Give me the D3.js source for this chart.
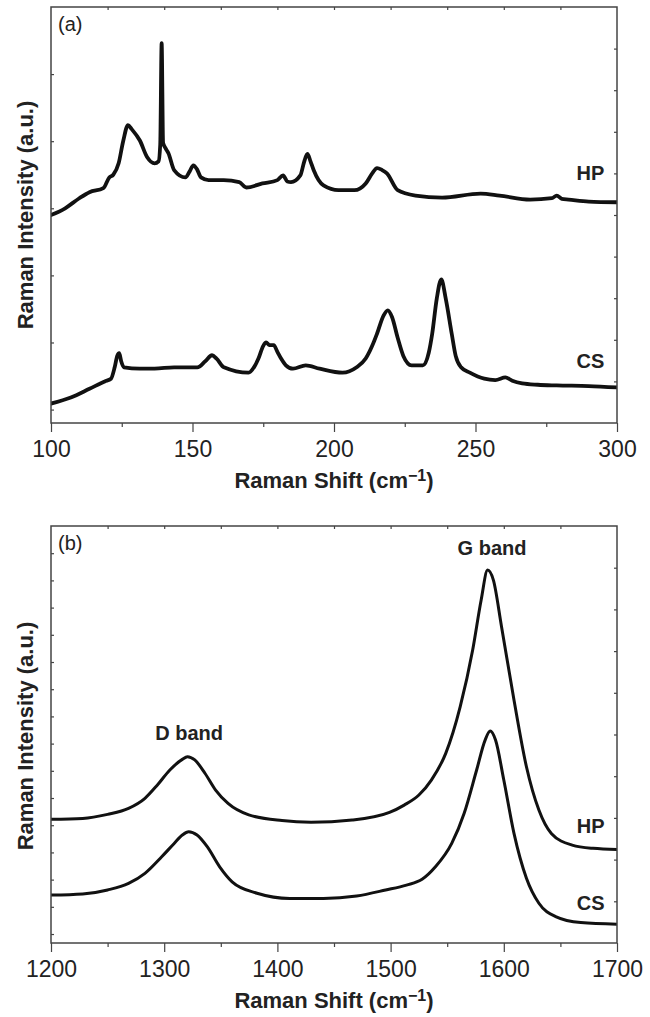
<!DOCTYPE html>
<html>
<head>
<meta charset="utf-8">
<script src="https://cdn.jsdelivr.net/npm/d3@7"></script>
<style>
    body { margin: 0; background: #fff; }
    .tick text { font-family: "Liberation Sans Narrow", "Liberation Sans", Arial, sans-serif; font-size: 23px; fill: #222; }
    .tick line { stroke: #444; stroke-width: 1.2; }
    .frame { fill: none; stroke: #444; stroke-width: 1.5; }
    .spectrum { fill: none; stroke: #111; stroke-linejoin: round; stroke-linecap: round; }
    .note { font-family: "Liberation Sans", Arial, sans-serif; font-weight: bold; font-size: 20px; fill: #222; }
    .title { font-family: "Liberation Sans", Arial, sans-serif; font-weight: bold; font-size: 22px; fill: #222; }
    .panel { font-family: "Liberation Sans", Arial, sans-serif; font-size: 20px; fill: #222; }
</style>
</head>
<body>
<script>
//panel (a) spectra, [Raman shift, intensity]
var lowShiftHP = [[100,2.90],[105,3.00],[110,3.15],[113.6,3.24],[118.5,3.30],[120.6,3.46],[122,3.50],[123.9,3.67],[125.5,4.00],[127.2,4.24],[128.5,4.18],[131.4,4.01],[134,3.76],[136.6,3.67],[138,3.70],[138.6,3.95],[139.1,5.46],[139.6,3.98],[140.4,3.90],[141.5,3.82],[143.5,3.57],[147.5,3.46],[149,3.55],[150.3,3.64],[151.6,3.58],[153,3.46],[155.7,3.42],[161,3.42],[166.5,3.39],[169,3.31],[174.7,3.37],[180,3.42],[182,3.49],[183.5,3.40],[184.8,3.39],[188.1,3.49],[189.5,3.70],[190.6,3.81],[191.7,3.70],[192.8,3.57],[196.3,3.34],[201.6,3.27],[207.2,3.27],[211.2,3.37],[213.5,3.52],[215.2,3.60],[217,3.57],[218.7,3.52],[222.5,3.27],[228.8,3.19],[238.2,3.16],[251.8,3.22],[258.5,3.19],[269.3,3.13],[277,3.15],[278.7,3.19],[280.5,3.14],[282.9,3.13],[290,3.10],[300,3.09]];
var lowShiftCS = [[100,0.09],[107,0.18],[113.6,0.31],[119,0.42],[121.2,0.46],[122.5,0.63],[123.4,0.80],[124.1,0.84],[124.8,0.72],[125.8,0.63],[131.3,0.61],[136.6,0.61],[143.5,0.63],[151.7,0.63],[154.5,0.72],[156.9,0.81],[158.5,0.76],[161.1,0.63],[169.8,0.55],[172,0.65],[173.3,0.76],[175,0.95],[176,1.00],[177.2,0.96],[178.7,0.96],[180,0.86],[181.3,0.76],[183,0.66],[185.5,0.61],[190,0.66],[194.9,0.61],[203,0.55],[208,0.63],[211.2,0.76],[213.5,0.95],[215.2,1.13],[217.5,1.40],[219,1.48],[220.5,1.38],[222.5,1.07],[224.5,0.80],[227.4,0.66],[231.4,0.66],[233.5,0.85],[234.7,1.13],[236.3,1.65],[237.9,1.94],[239.5,1.65],[241.6,1.13],[243,0.80],[244.9,0.63],[248,0.55],[253.1,0.46],[257,0.44],[260.6,0.48],[263,0.43],[266.5,0.39],[272,0.37],[278.7,0.36],[290,0.35],[300,0.33]];

//panel (b) spectra, D and G bands
var bandShiftHP = [[1200,4.22],[1228,4.25],[1250,4.40],[1268.5,4.62],[1283,4.99],[1294,5.48],[1305,6.03],[1316,6.42],[1320.5,6.52],[1327,6.40],[1336,5.91],[1345.4,5.29],[1356.4,4.80],[1374.7,4.38],[1404,4.17],[1429.7,4.11],[1466,4.19],[1499,4.47],[1512,4.74],[1525,5.11],[1536,5.66],[1548.7,6.64],[1561.5,8.36],[1572.5,10.44],[1580,12.28],[1585.7,13.38],[1590.8,13.01],[1598,11.30],[1609,8.60],[1620,6.15],[1631,4.56],[1642,3.70],[1660.4,3.27],[1678.8,3.15],[1700,3.11]];
var bandShiftCS = [[1200,1.43],[1228,1.47],[1250,1.62],[1268.5,1.86],[1283,2.23],[1297.8,2.84],[1308.8,3.33],[1316,3.64],[1321.6,3.76],[1329,3.64],[1338,3.21],[1349,2.47],[1360,1.92],[1382,1.50],[1411,1.31],[1440.7,1.31],[1470,1.40],[1495.6,1.62],[1514,1.80],[1527.8,2.01],[1539.6,2.47],[1554,3.33],[1565,4.44],[1576,6.03],[1583.5,7.13],[1588,7.46],[1592.7,7.13],[1600,5.66],[1609,3.70],[1620,2.05],[1631,1.13],[1645.8,0.64],[1668,0.42],[1700,0.36]];

//tick values
var lowMajorTicks = [100, 150, 200, 250, 300];
var lowMinorTicks = [125, 175, 225, 275];
var lowYTicks = [0, 1, 2, 3, 4, 5];
var bandMajorTicks = [1200, 1300, 1400, 1500, 1600, 1700];
var bandMinorTicks = [1250, 1350, 1450, 1550, 1650];
var bandYTicks = [0, 1, 2, 3, 4, 5, 6, 7, 8, 9, 10, 11, 12, 13, 14];

//curve labels in data coordinates
var lowLabels = [
    {text: "HP", x: 295.5, y: 3.42, anchor: "end"},
    {text: "CS", x: 295.5, y: 0.62, anchor: "end"}
];
var bandLabels = [
    {text: "HP", x: 1689, y: 3.71, anchor: "end"},
    {text: "CS", x: 1689, y: 0.88, anchor: "end"},
    {text: "D band", x: 1322, y: 7.13, anchor: "middle"},
    {text: "G band", x: 1589.6, y: 13.93, anchor: "middle"}
];

window.onload = setChart();

function setChart(){

    var width = 650,
        height = 1017;

    var svg = d3.select("body")
        .append("svg")
        .attr("width", width)
        .attr("height", height);

    drawPanel(svg, {
        tag: "(a)",
        top: 7, bottom: 423,
        xDomain: [100, 300], yDomain: [-0.2, 6],
        major: lowMajorTicks, minor: lowMinorTicks, yTicks: lowYTicks,
        series: [lowShiftHP, lowShiftCS],
        labels: lowLabels,
        lineWidth: 3.8,
        yTitleCenter: 215
    });

    drawPanel(svg, {
        tag: "(b)",
        top: 526, bottom: 943,
        xDomain: [1200, 1700], yDomain: [-0.33, 15],
        major: bandMajorTicks, minor: bandMinorTicks, yTicks: bandYTicks,
        series: [bandShiftHP, bandShiftCS],
        labels: bandLabels,
        lineWidth: 3,
        yTitleCenter: 736
    });
};

function drawPanel(svg, p){

    var left = 51,
        right = 617;

    var x = d3.scaleLinear().domain(p.xDomain).range([left, right]);
    var y = d3.scaleLinear().domain(p.yDomain).range([p.bottom, p.top]);

    //top and right axes have their own 10 divisions
    var xTop = d3.scaleLinear().domain([0, 10]).range([left, right]);
    var yRight = d3.scaleLinear().domain([0, 10]).range([p.bottom, p.top]);

    var g = svg.append("g");

    var clipId = "clip" + p.top;
    g.append("clipPath").attr("id", clipId)
        .append("rect")
        .attr("x", left).attr("y", p.top)
        .attr("width", right - left).attr("height", p.bottom - p.top);

    //spectra
    var line = d3.line()
        .x(function(d){ return x(d[0]); })
        .y(function(d){ return y(d[1]); })
        .curve(d3.curveMonotoneX);

    g.selectAll(".spectrum")
        .data(p.series)
        .enter()
        .append("path")
        .attr("class", "spectrum")
        .attr("clip-path", "url(#" + clipId + ")")
        .attr("stroke-width", p.lineWidth)
        .attr("d", line);

    //bottom axis, labelled majors and short minors
    var bottomAxis = g.append("g")
        .attr("transform", "translate(0," + p.bottom + ")")
        .call(d3.axisBottom(x).tickValues(p.major).tickSize(9).tickPadding(9).tickFormat(d3.format("d")));
    bottomAxis.select(".domain").remove();

    var minorAxis = g.append("g")
        .attr("transform", "translate(0," + p.bottom + ")")
        .call(d3.axisBottom(x).tickValues(p.minor).tickSize(4).tickFormat(""));
    minorAxis.select(".domain").remove();

    //inward ticks on the other three sides
    var leftAxis = g.append("g")
        .attr("transform", "translate(" + left + ",0)")
        .call(d3.axisRight(y).tickValues(p.yTicks).tickSize(3).tickFormat(""));
    leftAxis.select(".domain").remove();

    var topAxis = g.append("g")
        .attr("transform", "translate(0," + p.top + ")")
        .call(d3.axisBottom(xTop).tickValues(d3.range(1, 10)).tickSize(3).tickFormat(""));
    topAxis.select(".domain").remove();

    var rightAxis = g.append("g")
        .attr("transform", "translate(" + right + ",0)")
        .call(d3.axisLeft(yRight).tickValues(d3.range(1, 10)).tickSize(3).tickFormat(""));
    rightAxis.select(".domain").remove();

    g.append("rect")
        .attr("class", "frame")
        .attr("x", left).attr("y", p.top)
        .attr("width", right - left).attr("height", p.bottom - p.top);

    //panel tag
    g.append("text")
        .attr("class", "panel")
        .attr("x", left + 7)
        .attr("y", p.top + 24)
        .text(p.tag);

    //curve labels
    g.selectAll(".note")
        .data(p.labels)
        .enter()
        .append("text")
        .attr("class", "note")
        .attr("x", function(d){ return x(d.x); })
        .attr("y", function(d){ return y(d.y); })
        .attr("text-anchor", function(d){ return d.anchor; })
        .text(function(d){ return d.text; });

    //axis titles
    var xTitle = g.append("text")
        .attr("class", "title")
        .attr("x", (left + right) / 2)
        .attr("y", p.bottom + 65)
        .attr("text-anchor", "middle");
    xTitle.append("tspan").text("Raman Shift (cm");
    xTitle.append("tspan").attr("font-size", "16px").attr("dy", -7).text("\u22121");
    xTitle.append("tspan").attr("dy", 7).text(")");

    g.append("text")
        .attr("class", "title")
        .attr("transform", "translate(33," + p.yTitleCenter + ") rotate(-90)")
        .attr("text-anchor", "middle")
        .text("Raman Intensity (a.u.)");
};
</script>
</body>
</html>
